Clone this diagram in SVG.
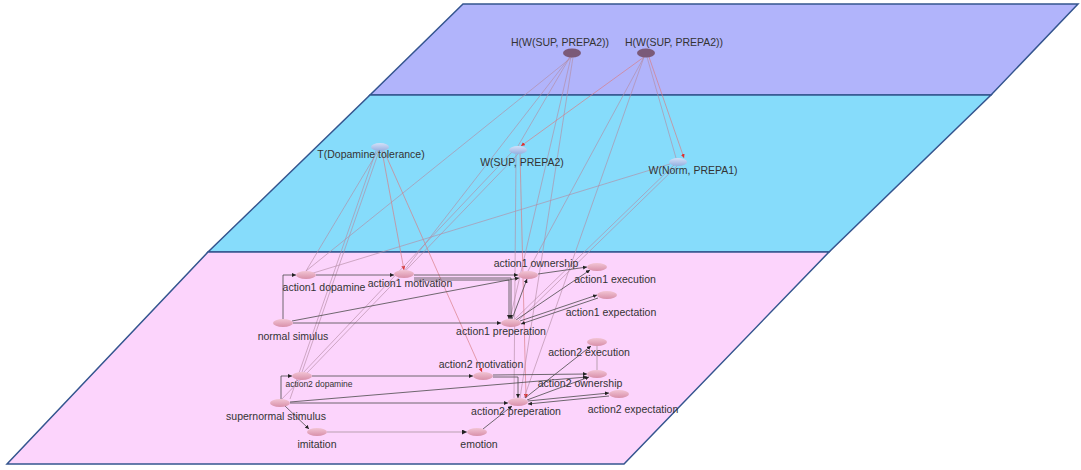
<svg xmlns="http://www.w3.org/2000/svg" width="1081" height="470" viewBox="0 0 1081 470">
<defs>
<style>
.plane{stroke:#34558f;stroke-width:1.5}
.lbl{font-family:"Liberation Sans",Arial,sans-serif;font-size:10.5px;fill:#333;text-anchor:middle}
.sm{font-size:8.5px}
.x{fill:none;stroke:#b48ca4;stroke-width:0.8;stroke-opacity:0.8}
.xr{fill:none;stroke:#d87c84;stroke-width:0.8;stroke-opacity:0.85}
.e{fill:none;stroke:#4a4a4a;stroke-width:0.8}
.el{fill:none;stroke:#b9a0b0;stroke-width:1}
.pk{fill:url(#gp)}
.bl{fill:url(#gb)}
.dk{fill:#7b5a78}
</style>
<linearGradient id="gp" x1="0" y1="0" x2="0" y2="1"><stop offset="0" stop-color="#f2c4d4"/><stop offset="1" stop-color="#d890aa"/></linearGradient>
<linearGradient id="gb" x1="0" y1="0" x2="0" y2="1"><stop offset="0" stop-color="#d4e0f8"/><stop offset="1" stop-color="#96b0e0"/></linearGradient>
<marker id="a" viewBox="0 0 6 6" refX="6" refY="3" markerWidth="5" markerHeight="5" orient="auto"><path d="M0,0L6,3L0,6z" fill="#222"/></marker>
<marker id="r" viewBox="0 0 6 6" refX="6" refY="3" markerWidth="5" markerHeight="5" orient="auto"><path d="M0,0L6,3L0,6z" fill="#e03030"/></marker>
</defs>
<g id="planes">
<polygon class="plane" fill="#b1b4fb" points="463,4 1078,4 991,95 370,95"/>
<polygon class="plane" fill="#86dcfb" points="370,95 991,95 829,252 208,252"/>
<polygon class="plane" fill="#fcd4fc" points="208,252 829,252 624,464 7,464"/>
</g>
<g id="connectors">
<line class="x" x1="572" y1="57" x2="306" y2="271"/>
<line class="x" x1="570" y1="57" x2="518" y2="146"/>
<line class="x" x1="571" y1="57" x2="510" y2="319"/>
<line class="x" x1="573" y1="57" x2="520" y2="398"/>
<line class="xr" x1="644" y1="57" x2="521" y2="146" marker-end="url(#r)"/>
<line class="x" x1="647" y1="57" x2="676" y2="158"/>
<line class="xr" x1="649" y1="57" x2="684" y2="158" marker-end="url(#r)"/>
<line class="x" x1="644" y1="57" x2="528" y2="271"/>
<line class="x" x1="378" y1="151" x2="306" y2="271"/>
<line class="xr" x1="382" y1="151" x2="404" y2="270" marker-end="url(#r)"/>
<line class="xr" x1="384" y1="151" x2="482" y2="372" marker-end="url(#r)"/>
<line class="x" x1="379" y1="151" x2="302" y2="372"/>
<line class="x" x1="376" y1="151" x2="290" y2="399"/>
<line class="x" x1="516" y1="154" x2="514" y2="398"/>
<line class="xr" x1="520" y1="154" x2="526" y2="398" marker-end="url(#r)"/>
<line class="x" x1="674" y1="165" x2="514" y2="320"/>
<line class="x" x1="677" y1="166" x2="518" y2="321"/>
<line class="x" x1="670" y1="164" x2="310" y2="274"/>
<line class="x" x1="512" y1="152" x2="302" y2="374"/>
<line class="x" x1="520" y1="152" x2="280" y2="401"/>
<line class="x" x1="644" y1="57" x2="524" y2="398"/>
<line class="x" x1="570" y1="57" x2="404" y2="271"/>
<!-- layer 1 -->
<polyline class="e" points="283,319 283,275 296,275" marker-end="url(#a)"/>
<line class="e" x1="316" y1="275" x2="394" y2="275" marker-end="url(#a)"/>
<line class="e" x1="414" y1="275" x2="518" y2="275" marker-end="url(#a)"/>
<polyline class="e" points="414,278 511,278 511,319" marker-end="url(#a)"/>
<polyline class="e" points="414,280 509,280 509,319" marker-end="url(#a)"/>
<line class="e" x1="292" y1="321" x2="519" y2="278" marker-end="url(#a)"/>
<line class="e" x1="293" y1="323" x2="501" y2="323" marker-end="url(#a)"/>
<line class="e" x1="512" y1="319" x2="527" y2="279" marker-end="url(#a)"/>
<line class="e" x1="538" y1="274" x2="587" y2="267" marker-end="url(#a)"/>
<line class="e" x1="516" y1="320" x2="590" y2="270" marker-end="url(#a)"/>
<line class="e" x1="520" y1="321" x2="597" y2="295" marker-end="url(#a)"/>
<line class="e" x1="598" y1="298" x2="521" y2="324" marker-end="url(#a)"/>
<!-- layer 2 -->
<polyline class="e" points="281,399 281,376 292,376" marker-end="url(#a)"/>
<line class="e" x1="312" y1="376" x2="473" y2="376" marker-end="url(#a)"/>
<polyline class="e" points="493,377 518,377 518,398" marker-end="url(#a)"/>
<line class="e" x1="493" y1="375" x2="587" y2="374" marker-end="url(#a)"/>
<line class="e" x1="290" y1="402" x2="587" y2="377" marker-end="url(#a)"/>
<line class="e" x1="290" y1="403" x2="508" y2="403" marker-end="url(#a)"/>
<line class="e" x1="285" y1="406" x2="309" y2="429" marker-end="url(#a)"/>
<line class="el" x1="327" y1="432" x2="467" y2="432" marker-end="url(#a)"/>
<line class="e" x1="483" y1="429" x2="512" y2="406" marker-end="url(#a)"/>
<line class="e" x1="525" y1="398" x2="591" y2="346" marker-end="url(#a)"/>
<line class="el" x1="597" y1="346" x2="597" y2="370"/>
<line class="e" x1="527" y1="400" x2="589" y2="377" marker-end="url(#a)"/>
<line class="e" x1="528" y1="401" x2="609" y2="393" marker-end="url(#a)"/>
<line class="e" x1="609" y1="396" x2="528" y2="404" marker-end="url(#a)"/>
</g>
<g id="n-h1"><ellipse class="dk" cx="572" cy="53" rx="9" ry="4.5"/><text class="lbl" x="560" y="46">H(W(SUP, PREPA2))</text></g>
<g id="n-h2"><ellipse class="dk" cx="646" cy="53" rx="9" ry="4.5"/><text class="lbl" x="674" y="46">H(W(SUP, PREPA2))</text></g>
<g id="n-t"><ellipse class="bl" cx="380" cy="147" rx="9" ry="4"/><text class="lbl" x="371" y="158">T(Dopamine tolerance)</text></g>
<g id="n-wsup"><ellipse class="bl" cx="518" cy="150" rx="9" ry="4"/><text class="lbl" x="522" y="166">W(SUP, PREPA2)</text></g>
<g id="n-wnorm"><ellipse class="bl" cx="678" cy="162" rx="9" ry="4"/><text class="lbl" x="693" y="174">W(Norm, PREPA1)</text></g>
<g id="n-a1dop"><ellipse class="pk" cx="306" cy="275" rx="10" ry="4"/><text class="lbl" x="324" y="291">action1 dopamine</text></g>
<g id="n-a1mot"><ellipse class="pk" cx="404" cy="274" rx="10" ry="4"/><text class="lbl" x="410" y="287">action1 motivation</text></g>
<g id="n-a1own"><ellipse class="pk" cx="528" cy="275" rx="10" ry="4"/><text class="lbl" x="536" y="267">action1 ownership</text></g>
<g id="n-a1exe"><ellipse class="pk" cx="597" cy="267" rx="10" ry="4"/><text class="lbl" x="615" y="283">action1 execution</text></g>
<g id="n-norm"><ellipse class="pk" cx="283" cy="323" rx="10" ry="4"/><text class="lbl" x="293" y="340">normal simulus</text></g>
<g id="n-a1prep"><ellipse class="pk" cx="511" cy="323" rx="10" ry="4"/><text class="lbl" x="501" y="335">action1 preperation</text></g>
<g id="n-a1exp"><ellipse class="pk" cx="607" cy="295" rx="10" ry="4"/><text class="lbl" x="611" y="316">action1 expectation</text></g>
<g id="n-a2exe"><ellipse class="pk" cx="597" cy="342" rx="10" ry="4"/><text class="lbl" x="589" y="356">action2 execution</text></g>
<g id="n-a2mot"><ellipse class="pk" cx="483" cy="376" rx="10" ry="4"/><text class="lbl" x="481" y="368">action2 motivation</text></g>
<g id="n-a2dop"><ellipse class="pk" cx="302" cy="376" rx="10" ry="4"/><text class="lbl sm" x="319" y="387">action2 dopamine</text></g>
<g id="n-a2own"><ellipse class="pk" cx="597" cy="374" rx="10" ry="4"/><text class="lbl" x="580" y="387">action2 ownership</text></g>
<g id="n-sup"><ellipse class="pk" cx="280" cy="403" rx="10" ry="4"/><text class="lbl" x="276" y="420">supernormal stimulus</text></g>
<g id="n-a2prep"><ellipse class="pk" cx="518" cy="402" rx="10" ry="4"/><text class="lbl" x="516" y="415">action2 preperation</text></g>
<g id="n-a2exp"><ellipse class="pk" cx="619" cy="394" rx="10" ry="4"/><text class="lbl" x="633" y="413">action2 expectation</text></g>
<g id="n-imit"><ellipse class="pk" cx="317" cy="432" rx="10" ry="4"/><text class="lbl" x="317" y="448">imitation</text></g>
<g id="n-emo"><ellipse class="pk" cx="477" cy="432" rx="10" ry="4"/><text class="lbl" x="479" y="448">emotion</text></g>
</svg>
